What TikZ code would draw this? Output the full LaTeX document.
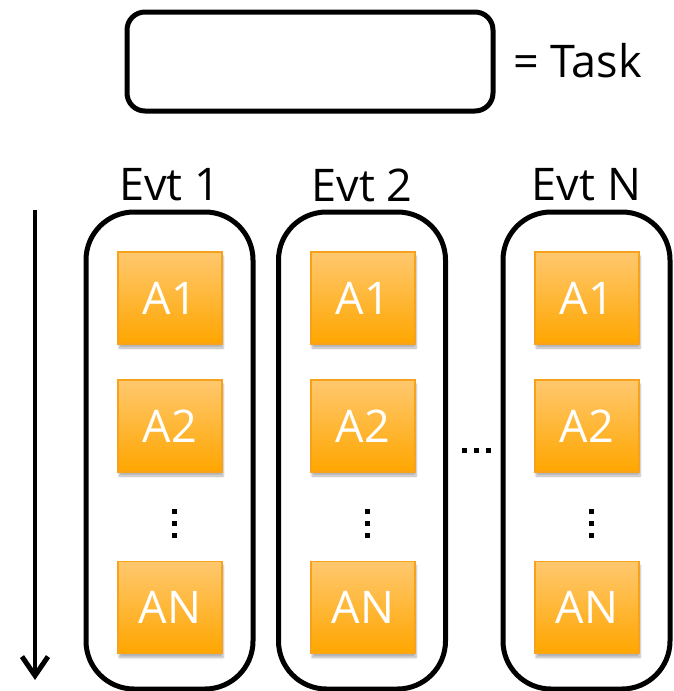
\documentclass[tikz,border=0pt]{standalone}
\usepackage{fontspec}
\setmainfont{Open Sans}
\usetikzlibrary{arrows.meta,shadows.blur}

\definecolor{accTop}{HTML}{FFC86E}
\definecolor{accBot}{HTML}{FFA600}
\definecolor{accLine}{HTML}{F7A21C}

\tikzset{
  frame/.style={draw=black, line width=5pt, rounded corners=18pt},
  column/.style={draw=black, line width=5pt, rounded corners=48pt},
  label/.style={font=\fontsize{45}{50}\selectfont, text=black, inner sep=0pt},
  action/.style={draw=accLine, line width=1.5pt, top color=accTop, bottom color=accBot,
    minimum width=104pt, minimum height=92pt, inner sep=0pt,
    text=white, font=\fontsize{45}{50}\selectfont,
    blur shadow={shadow xshift=1pt, shadow yshift=-4pt, shadow blur steps=6, shadow opacity=30}},
  dot/.style={fill=black, minimum size=5pt, inner sep=0pt},
}

\begin{document}
\begin{tikzpicture}[x=1pt, y=-1pt]
  \useasboundingbox (0,0) rectangle (673,691);

  % legend
  \node[frame, minimum width=366pt, minimum height=99pt] (legend) at (310,61.5) {};
  \node[label, anchor=west] (legendtxt) at (513,61) {= Task};

  % time arrow
  \coordinate (tStart) at (35,210);
  \coordinate (tEnd) at (35,680);
  \draw[line width=4.5pt, -{Straight Barb[length=19pt, width=26pt, line width=5pt]}] (tStart) -- (tEnd);

  % event columns
  \foreach \name/\cx/\bx/\title in {c1/169.5/170/Evt 1, c2/362/363/Evt 2, cN/586.5/587/Evt N}{
    \node[column, minimum width=167pt, minimum height=477pt] (\name) at (\cx,450.5) {};
    \node[label] (\name title) at (\cx,185) {\title};
    \node[action] (\name a1) at (\bx,298) {A1};
    \node[action] (\name a2) at (\bx,426) {A2};
    \node[action] (\name an) at (\bx,607.5) {AN};
    \node[dot] (\name d1) at (\bx+4,511) {};
    \node[dot] (\name d2) at (\bx+4,523) {};
    \node[dot] (\name d3) at (\bx+4,535) {};
  }

  % gap between columns
  \node[dot] (h1) at (464,450) {};
  \node[dot] (h2) at (476,450) {};
  \node[dot] (h3) at (488,450) {};
\end{tikzpicture}
\end{document}
